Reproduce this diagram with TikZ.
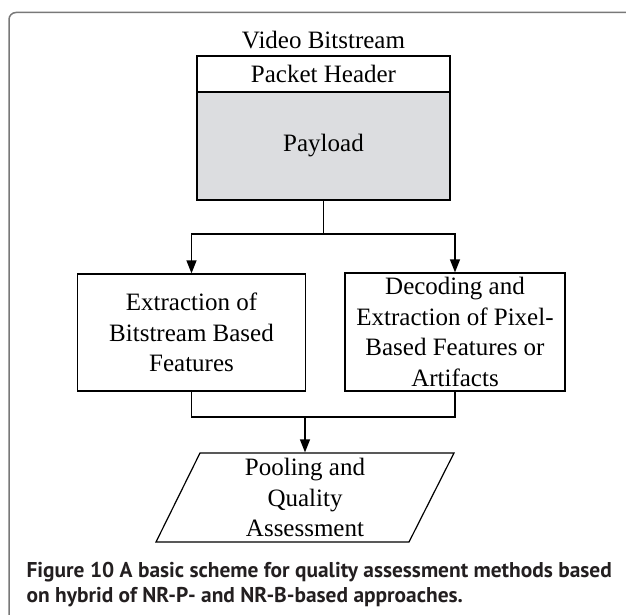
\documentclass[tikz,border=0pt]{standalone}
\usepackage{fontspec}
\setmainfont{Liberation Serif}
\newfontfamily\capfont{PT Sans}
\usetikzlibrary{arrows.meta}
\definecolor{payloadgray}{RGB}{220,221,224}
\definecolor{framegray}{RGB}{120,120,120}
\definecolor{captext}{RGB}{35,31,32}

\begin{document}
\begin{tikzpicture}[x=1pt, y=-1pt, >={Triangle[length=13pt,width=10pt]}, line width=1.2pt,
    box/.style={draw, rectangle, inner sep=0pt, align=center, font=\fontsize{25}{30.5}\selectfont},
    txt/.style={inner sep=0pt, align=center, font=\fontsize{25}{30.5}\selectfont},
    captxt/.style={anchor=base west, inner sep=0pt, text=captext, font=\capfont\bfseries\fontsize{21.4}{25}\selectfont}]
    \useasboundingbox (0,0) rectangle (626,615);
    % Frame
    \begin{scope}
        \clip (0,0) rectangle (626,615);
        \draw[framegray, line width=1.5pt, rounded corners=7pt] (9,12.5) rectangle (680,680);
    \end{scope}
    % Bitstream
    \node[txt] (title) at (323.5,40) {Video Bitstream};
    \node[box, minimum width=253pt, minimum height=36pt] (header) at (323.5,74) {Packet Header};
    \node[box, fill=payloadgray, minimum width=253pt, minimum height=108pt] (payload) at (323.5,146) {Payload};
    % Feature extraction
    \node[box, minimum width=228pt, minimum height=117pt] (feat) at (191.5,332.5) {Extraction of\\Bitstream Based\\Features};
    \node[box, minimum width=220pt, minimum height=118pt] (pix) at (455,332) {Decoding and\\Extraction of Pixel-\\Based Features or\\Artifacts};
    % Pooling
    \draw (200,453) -- (454,453) -- (409,542) -- (156,542) -- cycle;
    \node[txt, minimum height=89pt] (pool) at (305,497.5) {Pooling and\\Quality\\Assessment};
    % Connectors
    \coordinate (split) at (323.5,234);
    \draw (payload.south) -- (split);
    \draw[->] (split) -| (feat.north);
    \draw[->] (split) -| (pix.north);
    \coordinate (merge) at (305,417);
    \draw (feat.south) |- (merge);
    \draw (pix.south) |- (merge);
    \draw[->] (merge) -- (pool.north);
    % Caption
    \node[captxt] (cap1) at (26,577) {Figure 10 A basic scheme for quality assessment methods based};
    \node[captxt] (cap2) at (26,602) {on hybrid of NR-P- and NR-B-based approaches.};
\end{tikzpicture}
\end{document}
